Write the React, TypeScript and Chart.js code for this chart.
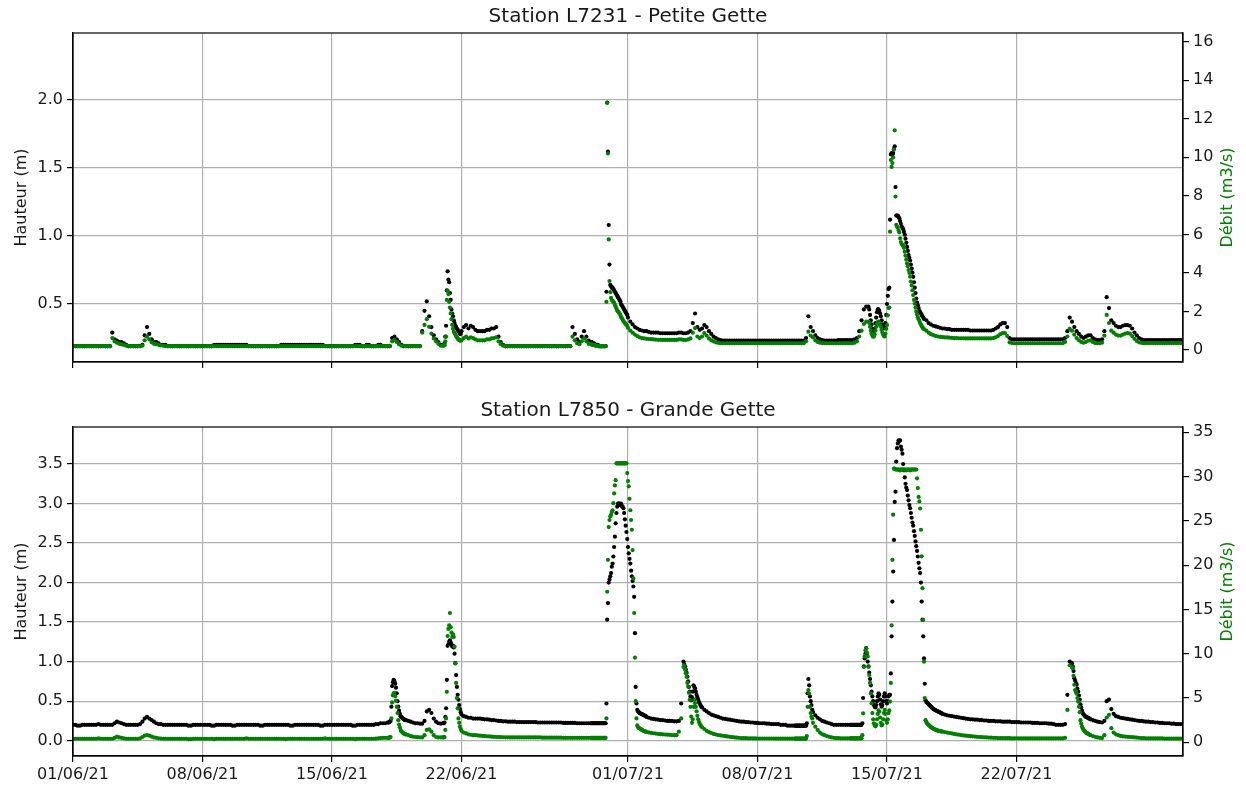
import React, { useEffect, useRef } from "react";
import { Chart, registerables } from "chart.js";

Chart.register(...registerables);

const FONT = '"DejaVu Sans", "Liberation Sans", sans-serif';
const TEXT = "#1a1a1a";
const GREEN = "#008000";
const GRID = "#b0b0b0";
const POINT_R = 2.1;

// x axis: days since 01/06/21
const xTickDays = [0, 7, 14, 21, 30, 37, 44, 51];
const xTickLabels = ["01/06/21", "08/06/21", "15/06/21", "22/06/21", "01/07/21", "08/07/21", "15/07/21", "22/07/21"];

const topHeightTicks = [0.5, 1.0, 1.5, 2.0];
const topFlowTicks = [0, 2, 4, 6, 8, 10, 12, 14, 16];
const bottomHeightTicks = [0, 0.5, 1.0, 1.5, 2.0, 2.5, 3.0, 3.5];
const bottomFlowTicks = [0, 5, 10, 15, 20, 25, 30, 35];

const topTitle = "Station L7231 - Petite Gette";
const bottomTitle = "Station L7850 - Grande Gette";
const heightLabel = "Hauteur (m)";
const flowLabel = "Débit (m3/s)";

// one row per day (01/06 .. 30/07), readings evenly spread over the day
const topHeight = [
  [0.19,0.19,0.19,0.19,0.19,0.19,0.19,0.19],
  [0.19,0.19,0.19,0.19,0.19,0.19,0.19,0.19],
  [0.19,0.29,0.24,0.23,0.22,0.22,0.21,0.2],
  [0.19,0.19,0.19,0.19,0.19,0.19,0.2,0.27],
  [0.33,0.28,0.24,0.22,0.22,0.21,0.2,0.2],
  [0.2,0.19,0.19,0.19,0.19,0.19,0.19,0.19],
  [0.19,0.19,0.19,0.19,0.19,0.19,0.19,0.19],
  [0.19,0.19,0.19,0.19,0.19,0.2,0.2,0.2],
  [0.2,0.2,0.2,0.2,0.2,0.2,0.2,0.2],
  [0.2,0.2,0.2,0.2,0.19,0.19,0.19,0.19],
  [0.19,0.19,0.19,0.19,0.19,0.19,0.19,0.19],
  [0.19,0.19,0.2,0.2,0.2,0.2,0.2,0.2],
  [0.2,0.2,0.2,0.2,0.2,0.2,0.2,0.2],
  [0.2,0.2,0.2,0.2,0.2,0.19,0.19,0.19],
  [0.19,0.19,0.19,0.19,0.19,0.19,0.19,0.19],
  [0.19,0.19,0.2,0.2,0.2,0.19,0.19,0.2],
  [0.2,0.19,0.19,0.19,0.2,0.2,0.19,0.19],
  [0.19,0.19,0.25,0.26,0.24,0.22,0.2,0.19],
  [0.19,0.19,0.19,0.19,0.19,0.19,0.19,0.3],
  [0.45,0.52,0.41,0.33,0.27,0.24,0.22,0.2],
  [0.2,0.2,0.21,0.26,0.34,0.6,0.74,0.68,0.66,0.58,0.53,0.46,0.43,0.41,0.38,0.36,0.34,0.33,0.32,0.31,0.3,0.29,0.28,0.28],
  [0.3,0.33,0.345,0.32,0.34,0.33,0.31,0.3],
  [0.3,0.3,0.3,0.31,0.31,0.32,0.32,0.33],
  [0.26,0.22,0.2,0.19,0.19,0.19,0.19,0.19],
  [0.19,0.19,0.19,0.19,0.19,0.19,0.19,0.19],
  [0.19,0.19,0.19,0.19,0.19,0.19,0.19,0.19],
  [0.19,0.19,0.19,0.19,0.19,0.19,0.19,0.19],
  [0.33,0.28,0.24,0.22,0.26,0.3,0.26,0.23],
  [0.22,0.22,0.21,0.21,0.21,0.2,0.2,0.2,0.2,0.2,0.19,0.19,0.19,0.19,0.19,0.19,0.19,0.19,0.19,0.19,0.59,1.98,1.62,1.08],
  [0.79,0.64,0.63,0.62,0.62,0.61,0.6,0.59,0.58,0.57,0.56,0.55,0.54,0.53,0.52,0.5,0.49,0.48,0.47,0.46,0.45,0.44,0.43,0.42],
  [0.4,0.37,0.35,0.33,0.32,0.31,0.305,0.3],
  [0.3,0.295,0.29,0.29,0.29,0.29,0.285,0.285],
  [0.285,0.285,0.285,0.285,0.285,0.285,0.29,0.29],
  [0.285,0.285,0.29,0.3,0.36,0.43,0.33,0.31],
  [0.32,0.345,0.33,0.3,0.28,0.26,0.25,0.24],
  [0.235,0.23,0.23,0.23,0.23,0.23,0.23,0.23],
  [0.23,0.23,0.23,0.23,0.23,0.23,0.23,0.23],
  [0.23,0.23,0.23,0.23,0.23,0.23,0.23,0.23],
  [0.23,0.23,0.23,0.23,0.23,0.23,0.23,0.23],
  [0.23,0.23,0.23,0.23,0.23,0.25,0.41,0.33],
  [0.3,0.27,0.25,0.24,0.235,0.23,0.23,0.23],
  [0.23,0.23,0.23,0.235,0.235,0.235,0.235,0.235],
  [0.235,0.235,0.24,0.25,0.3,0.38,0.46,0.48],
  [0.48,0.46,0.42,0.38,0.35,0.32,0.3,0.3,0.32,0.36,0.4,0.44,0.46,0.46,0.45,0.43,0.41,0.38,0.35,0.33,0.32,0.33,0.36,0.42],
  [0.5,0.56,0.61,0.62,1.12,1.6,1.61,1.6,1.61,1.64,1.66,1.36,1.15,1.15,1.15,1.14,1.13,1.11,1.09,1.07,1.06,1.05,1.03,1.01],
  [0.98,0.95,0.92,0.89,0.86,0.84,0.82,0.79,0.76,0.73,0.7,0.66,0.62,0.58,0.54,0.51,0.49,0.47,0.45,0.44,0.43,0.42,0.41,0.4],
  [0.39,0.38,0.36,0.35,0.34,0.335,0.33,0.325],
  [0.32,0.32,0.315,0.315,0.31,0.31,0.31,0.31],
  [0.31,0.31,0.31,0.31,0.305,0.305,0.305,0.305],
  [0.305,0.305,0.305,0.305,0.305,0.305,0.31,0.32],
  [0.33,0.35,0.36,0.36,0.33,0.25,0.24,0.24],
  [0.24,0.24,0.24,0.24,0.24,0.24,0.24,0.24],
  [0.24,0.24,0.24,0.24,0.24,0.24,0.24,0.24],
  [0.24,0.24,0.24,0.24,0.24,0.25,0.3,0.4],
  [0.37,0.33,0.3,0.28,0.26,0.25,0.26,0.27],
  [0.27,0.25,0.24,0.235,0.235,0.24,0.3,0.55],
  [0.47,0.38,0.36,0.34,0.33,0.33,0.34,0.345],
  [0.345,0.34,0.32,0.29,0.27,0.25,0.24,0.235],
  [0.235,0.235,0.235,0.235,0.235,0.235,0.235,0.235],
  [0.235,0.235,0.235,0.235,0.235,0.235,0.235,0.235],
];

const topFlow = [
  [0.2,0.2,0.2,0.2,0.2,0.2,0.2,0.2],
  [0.2,0.2,0.2,0.2,0.2,0.2,0.2,0.2],
  [0.2,0.62,0.45,0.38,0.32,0.3,0.26,0.22],
  [0.2,0.2,0.2,0.2,0.2,0.2,0.22,0.5],
  [0.69,0.55,0.4,0.32,0.3,0.27,0.24,0.22],
  [0.2,0.2,0.2,0.2,0.2,0.2,0.2,0.2],
  [0.2,0.2,0.2,0.2,0.2,0.2,0.2,0.2],
  [0.2,0.2,0.2,0.2,0.2,0.2,0.2,0.2],
  [0.2,0.2,0.2,0.2,0.2,0.2,0.2,0.2],
  [0.2,0.2,0.2,0.2,0.2,0.2,0.2,0.2],
  [0.2,0.2,0.2,0.2,0.2,0.2,0.2,0.2],
  [0.2,0.2,0.2,0.2,0.2,0.2,0.2,0.2],
  [0.2,0.2,0.2,0.2,0.2,0.2,0.2,0.2],
  [0.2,0.2,0.2,0.2,0.2,0.2,0.2,0.2],
  [0.2,0.2,0.2,0.2,0.2,0.2,0.2,0.2],
  [0.2,0.2,0.2,0.2,0.2,0.2,0.2,0.2],
  [0.2,0.2,0.2,0.2,0.2,0.2,0.2,0.2],
  [0.2,0.2,0.45,0.52,0.42,0.3,0.22,0.2],
  [0.2,0.2,0.2,0.2,0.2,0.2,0.2,0.9],
  [1.3,1.6,1.2,0.85,0.6,0.45,0.32,0.22],
  [0.22,0.22,0.25,0.45,0.69,2.6,3.08,2.9,2.5,2.2,1.9,1.6,1.3,1.1,0.95,0.88,0.8,0.72,0.66,0.6,0.55,0.52,0.5,0.48],
  [0.5,0.62,0.69,0.6,0.66,0.62,0.55,0.5],
  [0.5,0.5,0.5,0.55,0.55,0.6,0.62,0.66],
  [0.45,0.3,0.22,0.2,0.2,0.2,0.2,0.2],
  [0.2,0.2,0.2,0.2,0.2,0.2,0.2,0.2],
  [0.2,0.2,0.2,0.2,0.2,0.2,0.2,0.2],
  [0.2,0.2,0.2,0.2,0.2,0.2,0.2,0.2],
  [0.69,0.5,0.35,0.3,0.45,0.6,0.45,0.32],
  [0.3,0.28,0.27,0.26,0.25,0.24,0.23,0.22,0.22,0.21,0.2,0.2,0.2,0.2,0.2,0.2,0.2,0.2,0.2,0.2,2.5,12.83,10.2,5.74],
  [3.58,3.0,2.7,2.6,2.55,2.5,2.45,2.35,2.25,2.15,2.05,2.0,1.95,1.9,1.82,1.72,1.65,1.58,1.5,1.45,1.4,1.35,1.3,1.25],
  [1.15,1.0,0.9,0.8,0.72,0.66,0.62,0.6],
  [0.58,0.57,0.56,0.55,0.54,0.53,0.53,0.52],
  [0.52,0.52,0.52,0.52,0.52,0.52,0.55,0.55],
  [0.52,0.52,0.55,0.6,0.9,1.14,0.7,0.62],
  [0.7,0.88,0.75,0.6,0.5,0.45,0.4,0.37],
  [0.35,0.35,0.35,0.35,0.35,0.35,0.35,0.35],
  [0.35,0.35,0.35,0.35,0.35,0.35,0.35,0.35],
  [0.35,0.35,0.35,0.35,0.35,0.35,0.35,0.35],
  [0.35,0.35,0.35,0.35,0.35,0.35,0.35,0.35],
  [0.35,0.35,0.35,0.35,0.35,0.45,0.95,0.75],
  [0.65,0.5,0.42,0.38,0.36,0.35,0.35,0.35],
  [0.35,0.35,0.35,0.35,0.35,0.35,0.35,0.35],
  [0.35,0.35,0.38,0.45,0.7,1.0,1.35,1.47],
  [1.47,1.4,1.2,1.0,0.85,0.75,0.69,0.7,0.8,1.0,1.2,1.35,1.45,1.47,1.4,1.3,1.2,1.05,0.9,0.8,0.72,0.7,0.85,1.1],
  [1.3,1.8,2.18,2.2,6.14,9.86,9.5,9.7,10.0,10.4,11.4,7.96,6.5,6.4,6.35,6.2,6.1,5.8,5.6,5.5,5.45,5.4,5.3,5.1],
  [4.9,4.7,4.5,4.35,4.15,4.0,3.8,3.55,3.35,3.1,2.85,2.6,2.4,2.2,2.0,1.85,1.7,1.6,1.5,1.4,1.32,1.25,1.18,1.12],
  [1.08,1.0,0.9,0.82,0.77,0.73,0.7,0.68],
  [0.67,0.66,0.65,0.64,0.63,0.62,0.62,0.61],
  [0.61,0.61,0.6,0.6,0.6,0.6,0.6,0.6],
  [0.6,0.6,0.6,0.6,0.6,0.6,0.62,0.66],
  [0.72,0.82,0.88,0.88,0.72,0.4,0.36,0.35],
  [0.35,0.35,0.35,0.35,0.35,0.35,0.35,0.35],
  [0.35,0.35,0.35,0.35,0.35,0.35,0.35,0.35],
  [0.35,0.35,0.35,0.35,0.35,0.42,0.7,1.1],
  [1.0,0.8,0.62,0.5,0.42,0.38,0.42,0.48],
  [0.5,0.42,0.36,0.35,0.35,0.38,0.75,1.82],
  [1.4,1.0,0.9,0.8,0.75,0.75,0.8,0.85],
  [0.88,0.85,0.72,0.58,0.47,0.4,0.37,0.35],
  [0.36,0.36,0.36,0.36,0.36,0.36,0.36,0.36],
  [0.36,0.36,0.36,0.36,0.36,0.36,0.36,0.36],
];

const bottomHeight = [
  [0.2,0.2,0.19,0.19,0.2,0.2,0.2,0.2],
  [0.2,0.2,0.2,0.21,0.2,0.2,0.2,0.2],
  [0.2,0.2,0.22,0.24,0.23,0.22,0.21,0.2],
  [0.2,0.2,0.2,0.2,0.2,0.21,0.24,0.28],
  [0.3,0.28,0.26,0.24,0.22,0.21,0.21,0.2],
  [0.2,0.2,0.2,0.2,0.2,0.2,0.2,0.2],
  [0.2,0.2,0.19,0.19,0.2,0.2,0.2,0.2],
  [0.2,0.2,0.2,0.2,0.19,0.19,0.2,0.2],
  [0.2,0.2,0.2,0.2,0.2,0.19,0.19,0.2],
  [0.2,0.2,0.2,0.2,0.2,0.2,0.2,0.2],
  [0.2,0.19,0.19,0.2,0.2,0.2,0.2,0.2],
  [0.2,0.2,0.2,0.2,0.2,0.2,0.19,0.19],
  [0.2,0.2,0.2,0.2,0.2,0.2,0.2,0.2],
  [0.2,0.2,0.2,0.19,0.19,0.2,0.2,0.2],
  [0.2,0.2,0.2,0.2,0.2,0.2,0.2,0.2],
  [0.2,0.19,0.19,0.2,0.2,0.2,0.2,0.2],
  [0.2,0.2,0.2,0.21,0.21,0.22,0.22,0.22],
  [0.23,0.23,0.23,0.24,0.25,0.43,0.69,0.74,0.77,0.75,0.72,0.67,0.6,0.5,0.43,0.38,0.34,0.31,0.3,0.29,0.28,0.27,0.265,0.26],
  [0.26,0.25,0.24,0.23,0.22,0.22,0.215,0.215],
  [0.25,0.37,0.39,0.35,0.28,0.24,0.22,0.215],
  [0.22,0.22,0.23,0.3,0.41,0.77,1.2,1.22,1.25,1.27,1.24,1.22,1.19,1.2,1.18,1.1,0.98,0.83,0.68,0.58,0.52,0.45,0.4,0.36],
  [0.33,0.31,0.3,0.29,0.29,0.28,0.28,0.28],
  [0.28,0.275,0.27,0.27,0.265,0.26,0.26,0.255],
  [0.25,0.25,0.245,0.245,0.24,0.24,0.24,0.24],
  [0.235,0.235,0.235,0.235,0.235,0.235,0.235,0.235],
  [0.235,0.23,0.23,0.23,0.23,0.23,0.23,0.23],
  [0.23,0.23,0.23,0.23,0.225,0.225,0.225,0.225],
  [0.225,0.225,0.22,0.22,0.22,0.22,0.22,0.22],
  [0.22,0.22,0.22,0.22,0.22,0.22,0.22,0.22,0.22,0.22,0.22,0.22,0.22,0.22,0.22,0.22,0.22,0.22,0.22,0.22,0.47,1.53,1.74,2.0],
  [2.04,2.08,2.12,2.2,2.24,2.33,2.45,2.58,2.75,2.88,2.96,3.0,3.0,3.0,2.98,3.0,2.97,2.96,2.94,2.88,2.8,2.72,2.64,2.55],
  [2.45,2.37,2.3,2.24,2.15,2.08,2.02,1.95,1.82,1.36,0.68,0.47,0.39,0.37,0.36,0.35,0.345,0.34,0.335,0.33,0.325,0.32,0.315,0.31],
  [0.3,0.29,0.28,0.275,0.27,0.265,0.26,0.26],
  [0.255,0.25,0.25,0.25,0.245,0.245,0.25,0.47],
  [1.0,0.97,0.94,0.9,0.86,0.81,0.75,0.68,0.62,0.56,0.51,0.55,0.62,0.7,0.68,0.66,0.62,0.58,0.55,0.52,0.49,0.47,0.45,0.43],
  [0.42,0.39,0.37,0.35,0.33,0.32,0.31,0.3],
  [0.29,0.28,0.275,0.27,0.265,0.26,0.255,0.25],
  [0.245,0.24,0.24,0.235,0.235,0.23,0.23,0.225],
  [0.225,0.22,0.22,0.22,0.215,0.215,0.21,0.21],
  [0.21,0.21,0.2,0.2,0.2,0.19,0.19,0.19],
  [0.19,0.19,0.19,0.19,0.19,0.19,0.19,0.19,0.19,0.19,0.19,0.19,0.19,0.19,0.19,0.19,0.22,0.6,0.78,0.7,0.56,0.5,0.45,0.39],
  [0.36,0.32,0.29,0.27,0.25,0.24,0.23,0.22],
  [0.21,0.2,0.2,0.2,0.2,0.2,0.2,0.2],
  [0.2,0.2,0.2,0.2,0.2,0.2,0.2,0.2,0.2,0.2,0.2,0.2,0.2,0.2,0.2,0.2,0.22,0.54,0.94,1.04,1.1,1.17,1.1,1.0],
  [0.94,0.86,0.78,0.7,0.62,0.56,0.5,0.45,0.43,0.42,0.45,0.5,0.56,0.6,0.58,0.52,0.46,0.43,0.45,0.5,0.56,0.6,0.56,0.5],
  [0.47,0.5,0.56,0.58,0.58,0.85,1.32,1.76,2.14,2.54,3.02,3.15,3.53,3.7,3.76,3.8,3.79,3.8,3.72,3.68,3.63,3.5,3.42,3.33],
  [3.25,3.2,3.17,3.1,3.04,2.98,2.94,2.88,2.82,2.76,2.72,2.65,2.59,2.52,2.46,2.4,2.33,2.25,2.18,2.12,2.0,1.76,1.53,1.32],
  [1.04,0.72,0.51,0.49,0.48,0.47,0.46,0.45,0.44,0.43,0.42,0.41,0.4,0.395,0.39,0.385,0.38,0.375,0.37,0.365,0.36,0.355,0.35,0.345],
  [0.34,0.33,0.32,0.315,0.31,0.305,0.3,0.295],
  [0.29,0.285,0.28,0.275,0.27,0.27,0.265,0.265],
  [0.26,0.26,0.255,0.255,0.25,0.25,0.25,0.245],
  [0.245,0.245,0.24,0.24,0.24,0.24,0.235,0.235],
  [0.235,0.235,0.23,0.23,0.23,0.23,0.23,0.225],
  [0.225,0.225,0.22,0.22,0.22,0.22,0.215,0.215],
  [0.21,0.2,0.2,0.2,0.2,0.21,0.58,1.0],
  [0.98,0.94,0.88,0.79,0.76,0.73,0.71,0.66,0.62,0.57,0.52,0.46,0.42,0.38,0.35,0.33,0.32,0.31,0.3,0.3,0.29,0.29,0.28,0.28],
  [0.27,0.26,0.25,0.24,0.235,0.23,0.25,0.5],
  [0.52,0.4,0.34,0.31,0.3,0.29,0.285,0.28],
  [0.275,0.27,0.265,0.26,0.255,0.25,0.25,0.245],
  [0.24,0.24,0.235,0.235,0.23,0.23,0.225,0.225],
  [0.22,0.22,0.22,0.215,0.215,0.21,0.21,0.21],
];

const bottomFlow = [
  [0.4,0.4,0.4,0.4,0.4,0.4,0.4,0.4],
  [0.4,0.4,0.4,0.45,0.4,0.4,0.4,0.4],
  [0.4,0.4,0.5,0.63,0.55,0.5,0.45,0.4],
  [0.4,0.4,0.4,0.4,0.4,0.45,0.6,0.75],
  [0.82,0.75,0.65,0.55,0.5,0.45,0.42,0.4],
  [0.4,0.4,0.4,0.4,0.4,0.4,0.4,0.4],
  [0.4,0.4,0.35,0.35,0.4,0.4,0.4,0.4],
  [0.4,0.4,0.4,0.4,0.4,0.35,0.4,0.4],
  [0.4,0.4,0.4,0.4,0.4,0.4,0.4,0.4],
  [0.4,0.4,0.4,0.45,0.4,0.4,0.4,0.4],
  [0.4,0.4,0.4,0.4,0.4,0.4,0.4,0.4],
  [0.4,0.4,0.4,0.4,0.35,0.4,0.4,0.4],
  [0.4,0.4,0.4,0.4,0.4,0.4,0.4,0.4],
  [0.4,0.4,0.4,0.4,0.4,0.45,0.4,0.4],
  [0.4,0.4,0.4,0.4,0.4,0.4,0.4,0.4],
  [0.4,0.4,0.35,0.4,0.4,0.4,0.4,0.4],
  [0.4,0.4,0.4,0.42,0.45,0.48,0.5,0.5],
  [0.5,0.5,0.52,0.55,0.6,2.7,4.5,5.3,5.5,5.57,5.2,4.7,4.0,3.3,2.5,2.0,1.7,1.4,1.25,1.15,1.05,1.0,0.95,0.9],
  [0.9,0.8,0.7,0.63,0.6,0.58,0.56,0.55],
  [0.8,1.4,1.47,1.2,0.8,0.6,0.55,0.55],
  [0.55,0.55,0.6,1.4,2.7,5.7,12.0,12.8,13.2,14.6,13.0,12.4,11.9,12.2,11.9,10.8,8.9,6.7,5.0,3.84,2.7,2.2,1.76,1.5],
  [1.3,1.1,1.0,0.9,0.85,0.8,0.8,0.78],
  [0.75,0.72,0.7,0.68,0.66,0.64,0.62,0.6],
  [0.6,0.58,0.57,0.56,0.56,0.55,0.55,0.55],
  [0.55,0.55,0.55,0.55,0.55,0.55,0.55,0.55],
  [0.55,0.55,0.55,0.52,0.52,0.52,0.52,0.52],
  [0.52,0.52,0.52,0.52,0.5,0.5,0.5,0.5],
  [0.5,0.5,0.5,0.5,0.5,0.5,0.5,0.5],
  [0.5,0.5,0.5,0.5,0.5,0.5,0.5,0.5,0.5,0.5,0.5,0.5,0.5,0.5,0.5,0.5,0.5,0.5,0.5,0.5,2.7,17.0,20.6,24.3],
  [25.1,25.5,25.7,26.0,26.2,27.0,28.1,29.0,29.6,31.5,31.5,31.5,31.5,31.5,31.5,31.5,31.5,31.5,31.5,31.5,31.5,31.5,31.5,30.4],
  [29.5,28.9,27.5,26.2,25.1,24.0,21.7,18.5,14.6,9.55,4.66,2.7,1.9,1.7,1.62,1.58,1.5,1.45,1.4,1.35,1.3,1.27,1.23,1.2],
  [1.18,1.12,1.06,1.02,0.98,0.95,0.92,0.9],
  [0.88,0.86,0.84,0.82,0.8,0.8,1.2,2.7],
  [8.5,8.7,8.2,7.8,7.4,6.7,6.3,5.6,4.8,4.0,2.9,2.2,2.6,4.0,4.8,4.4,4.0,3.5,3.0,2.6,2.3,2.1,1.95,1.8],
  [1.7,1.5,1.3,1.15,1.05,0.95,0.88,0.82],
  [0.78,0.74,0.7,0.66,0.62,0.58,0.55,0.52],
  [0.5,0.48,0.47,0.46,0.45,0.45,0.44,0.44],
  [0.43,0.43,0.43,0.43,0.43,0.43,0.43,0.43],
  [0.42,0.42,0.42,0.42,0.42,0.42,0.42,0.42],
  [0.42,0.42,0.42,0.42,0.42,0.42,0.42,0.42,0.42,0.42,0.42,0.42,0.42,0.42,0.42,0.42,0.7,4.0,5.9,5.5,4.0,3.3,2.9,2.7],
  [2.2,1.76,1.4,1.1,0.9,0.8,0.7,0.62],
  [0.55,0.5,0.48,0.46,0.45,0.45,0.45,0.45],
  [0.45,0.45,0.45,0.45,0.45,0.45,0.45,0.45,0.45,0.45,0.45,0.45,0.45,0.45,0.45,0.45,0.8,3.27,8.5,9.7,10.4,10.6,10.1,9.7],
  [8.5,7.6,6.7,5.5,4.4,3.3,2.6,2.15,1.9,1.8,2.0,2.6,3.2,3.6,3.45,2.8,2.2,1.9,2.0,2.6,3.3,3.65,3.2,2.5],
  [2.2,2.6,3.3,3.6,4.6,6.7,13.2,20.6,25.7,30.9,30.9,30.8,30.8,30.8,30.8,30.8,30.8,30.7,30.8,30.8,30.8,30.8,30.8,30.8],
  [30.8,30.7,30.8,30.8,30.8,30.8,30.7,30.8,30.8,30.8,30.8,30.8,30.8,30.8,30.8,29.8,28.7,27.7,27.2,26.4,24.0,21.0,17.4,13.8],
  [9.1,5.0,2.5,2.3,2.15,2.05,1.95,1.88,1.8,1.72,1.66,1.6,1.55,1.5,1.46,1.42,1.38,1.35,1.32,1.3,1.28,1.26,1.24,1.22],
  [1.2,1.15,1.1,1.05,1.0,0.95,0.9,0.86],
  [0.82,0.78,0.75,0.72,0.7,0.68,0.65,0.62],
  [0.6,0.58,0.56,0.55,0.53,0.52,0.5,0.5],
  [0.48,0.48,0.47,0.47,0.46,0.46,0.45,0.45],
  [0.45,0.45,0.45,0.45,0.45,0.45,0.45,0.45],
  [0.45,0.45,0.45,0.45,0.45,0.45,0.45,0.45],
  [0.45,0.45,0.45,0.45,0.45,0.5,3.65,8.7],
  [8.5,8.35,7.5,6.5,5.9,5.7,5.5,5.0,4.6,4.0,3.4,2.5,2.1,1.76,1.55,1.4,1.3,1.2,1.1,1.05,1.0,0.95,0.9,0.85],
  [0.8,0.7,0.62,0.55,0.5,0.48,0.8,2.8],
  [3.1,1.6,1.1,0.9,0.8,0.72,0.68,0.65],
  [0.62,0.6,0.58,0.55,0.53,0.5,0.48,0.47],
  [0.45,0.45,0.45,0.45,0.45,0.45,0.45,0.45],
  [0.42,0.42,0.42,0.42,0.42,0.42,0.42,0.42],
];

function toPoints(rows: number[][]) {
  const pts: { x: number; y: number }[] = [];
  rows.forEach((row, day) => {
    row.forEach((v, k) => {
      if (v !== null && v !== undefined) pts.push({ x: day + k / row.length, y: v });
    });
  });
  return pts;
}

const framePlugin = {
  id: "frame",
  afterDatasetsDraw(chart: any) {
    const { ctx, chartArea: a } = chart;
    ctx.save();
    ctx.strokeStyle = "#000";
    ctx.lineWidth = 1.2;
    ctx.strokeRect(a.left, a.top, a.right - a.left, a.bottom - a.top);
    ctx.restore();
  },
};

const rightLabelPlugin = {
  id: "rightAxisLabel",
  afterDraw(chart: any, _args: any, opts: any) {
    const { ctx, chartArea: a } = chart;
    ctx.save();
    ctx.translate(opts.x, (a.top + a.bottom) / 2);
    ctx.rotate(-Math.PI / 2);
    ctx.font = `16px ${FONT}`;
    ctx.fillStyle = GREEN;
    ctx.textAlign = "center";
    ctx.textBaseline = "alphabetic";
    ctx.fillText(opts.text, 0, 0);
    ctx.restore();
  },
};

type PanelProps = {
  title: string;
  height: number[][];
  flow: number[][];
  heightTicks: number[];
  flowTicks: number[];
  heightRange: [number, number];
  flowRange: [number, number];
  showXLabels: boolean;
};

function buildConfig(p: PanelProps): any {
  const tickFont = { family: FONT, size: 16 };
  return {
    type: "scatter",
    data: {
      datasets: [
        {
          label: flowLabel,
          data: toPoints(p.flow),
          yAxisID: "y1",
          backgroundColor: GREEN,
          borderColor: GREEN,
          pointRadius: POINT_R,
          pointBorderWidth: 0,
          pointHoverRadius: 0,
          order: 0,
        },
        {
          label: heightLabel,
          data: toPoints(p.height),
          yAxisID: "y",
          backgroundColor: "#000",
          borderColor: "#000",
          pointRadius: POINT_R,
          pointBorderWidth: 0,
          pointHoverRadius: 0,
          order: 1,
        },
      ],
    },
    options: {
      animation: false,
      responsive: false,
      maintainAspectRatio: false,
      devicePixelRatio: 1,
      events: [],
      layout: { padding: 0 },
      plugins: {
        legend: { display: false },
        tooltip: { enabled: false },
        title: {
          display: true,
          text: p.title,
          fullSize: false,
          color: TEXT,
          font: { family: FONT, size: 20, weight: "normal" },
          padding: { top: 5, bottom: 4 },
        },
        rightAxisLabel: { text: flowLabel, x: 1232 },
      },
      scales: {
        x: {
          type: "linear",
          min: 0,
          max: 60,
          afterBuildTicks: (s: any) => {
            s.ticks = xTickDays.map((v) => ({ value: v }));
          },
          afterFit: (s: any) => {
            s.height = 32;
          },
          ticks: {
            display: p.showXLabels,
            autoSkip: false,
            maxRotation: 0,
            minRotation: 0,
            padding: 3,
            color: TEXT,
            font: tickFont,
            callback: (_v: any, i: number) => xTickLabels[i],
          },
          grid: { color: GRID, lineWidth: 1.2, drawTicks: true, tickLength: 6, tickColor: "#000", tickWidth: 1.2 },
          border: { display: true, color: "#000", width: 1.2 },
        },
        y: {
          type: "linear",
          position: "left",
          min: p.heightRange[0],
          max: p.heightRange[1],
          afterBuildTicks: (s: any) => {
            s.ticks = p.heightTicks.map((v) => ({ value: v }));
          },
          afterFit: (s: any) => {
            s.width = 73;
          },
          ticks: {
            padding: 4,
            color: TEXT,
            font: tickFont,
            callback: (v: any) => Number(v).toFixed(1),
          },
          grid: { color: GRID, lineWidth: 1.2, drawTicks: true, tickLength: 6, tickColor: "#000", tickWidth: 1.2 },
          border: { display: true, color: "#000", width: 1.2 },
          title: {
            display: true,
            text: heightLabel,
            color: TEXT,
            font: { family: FONT, size: 16 },
            padding: { top: 12, bottom: 0 },
          },
        },
        y1: {
          type: "linear",
          position: "right",
          min: p.flowRange[0],
          max: p.flowRange[1],
          afterBuildTicks: (s: any) => {
            s.ticks = p.flowTicks.map((v) => ({ value: v }));
          },
          afterFit: (s: any) => {
            s.width = 63;
          },
          ticks: {
            padding: 4,
            color: TEXT,
            font: tickFont,
            callback: (v: any) => String(v),
          },
          grid: { drawOnChartArea: false, lineWidth: 1.2, drawTicks: true, tickLength: 6, tickColor: "#000", tickWidth: 1.2 },
          border: { display: true, color: "#000", width: 1.2 },
        },
      },
    },
    plugins: [framePlugin, rightLabelPlugin],
  };
}

function Panel(props: PanelProps & { top: number }) {
  const ref = useRef<HTMLCanvasElement>(null);
  useEffect(() => {
    if (!ref.current) return;
    const chart = new Chart(ref.current, buildConfig(props));
    return () => chart.destroy();
  }, []);
  return (
    <canvas
      ref={ref}
      width={1246}
      height={394}
      style={{ position: "absolute", left: 0, top: props.top, width: 1246, height: 394, display: "block" }}
    />
  );
}

export default function App() {
  return (
    <div style={{ position: "absolute", left: 0, top: 0, width: 1246, height: 788, background: "#fff" }}>
      <Panel
        top={0}
        title={topTitle}
        height={topHeight}
        flow={topFlow}
        heightTicks={topHeightTicks}
        flowTicks={topFlowTicks}
        heightRange={[0.0735, 2.4926]}
        flowRange={[-0.623, 16.45]}
        showXLabels={false}
      />
      <Panel
        top={394}
        title={bottomTitle}
        height={bottomHeight}
        flow={bottomFlow}
        heightTicks={bottomHeightTicks}
        flowTicks={bottomFlowTicks}
        heightRange={[-0.194, 3.968]}
        flowRange={[-1.547, 35.6]}
        showXLabels={true}
      />
    </div>
  );
}
